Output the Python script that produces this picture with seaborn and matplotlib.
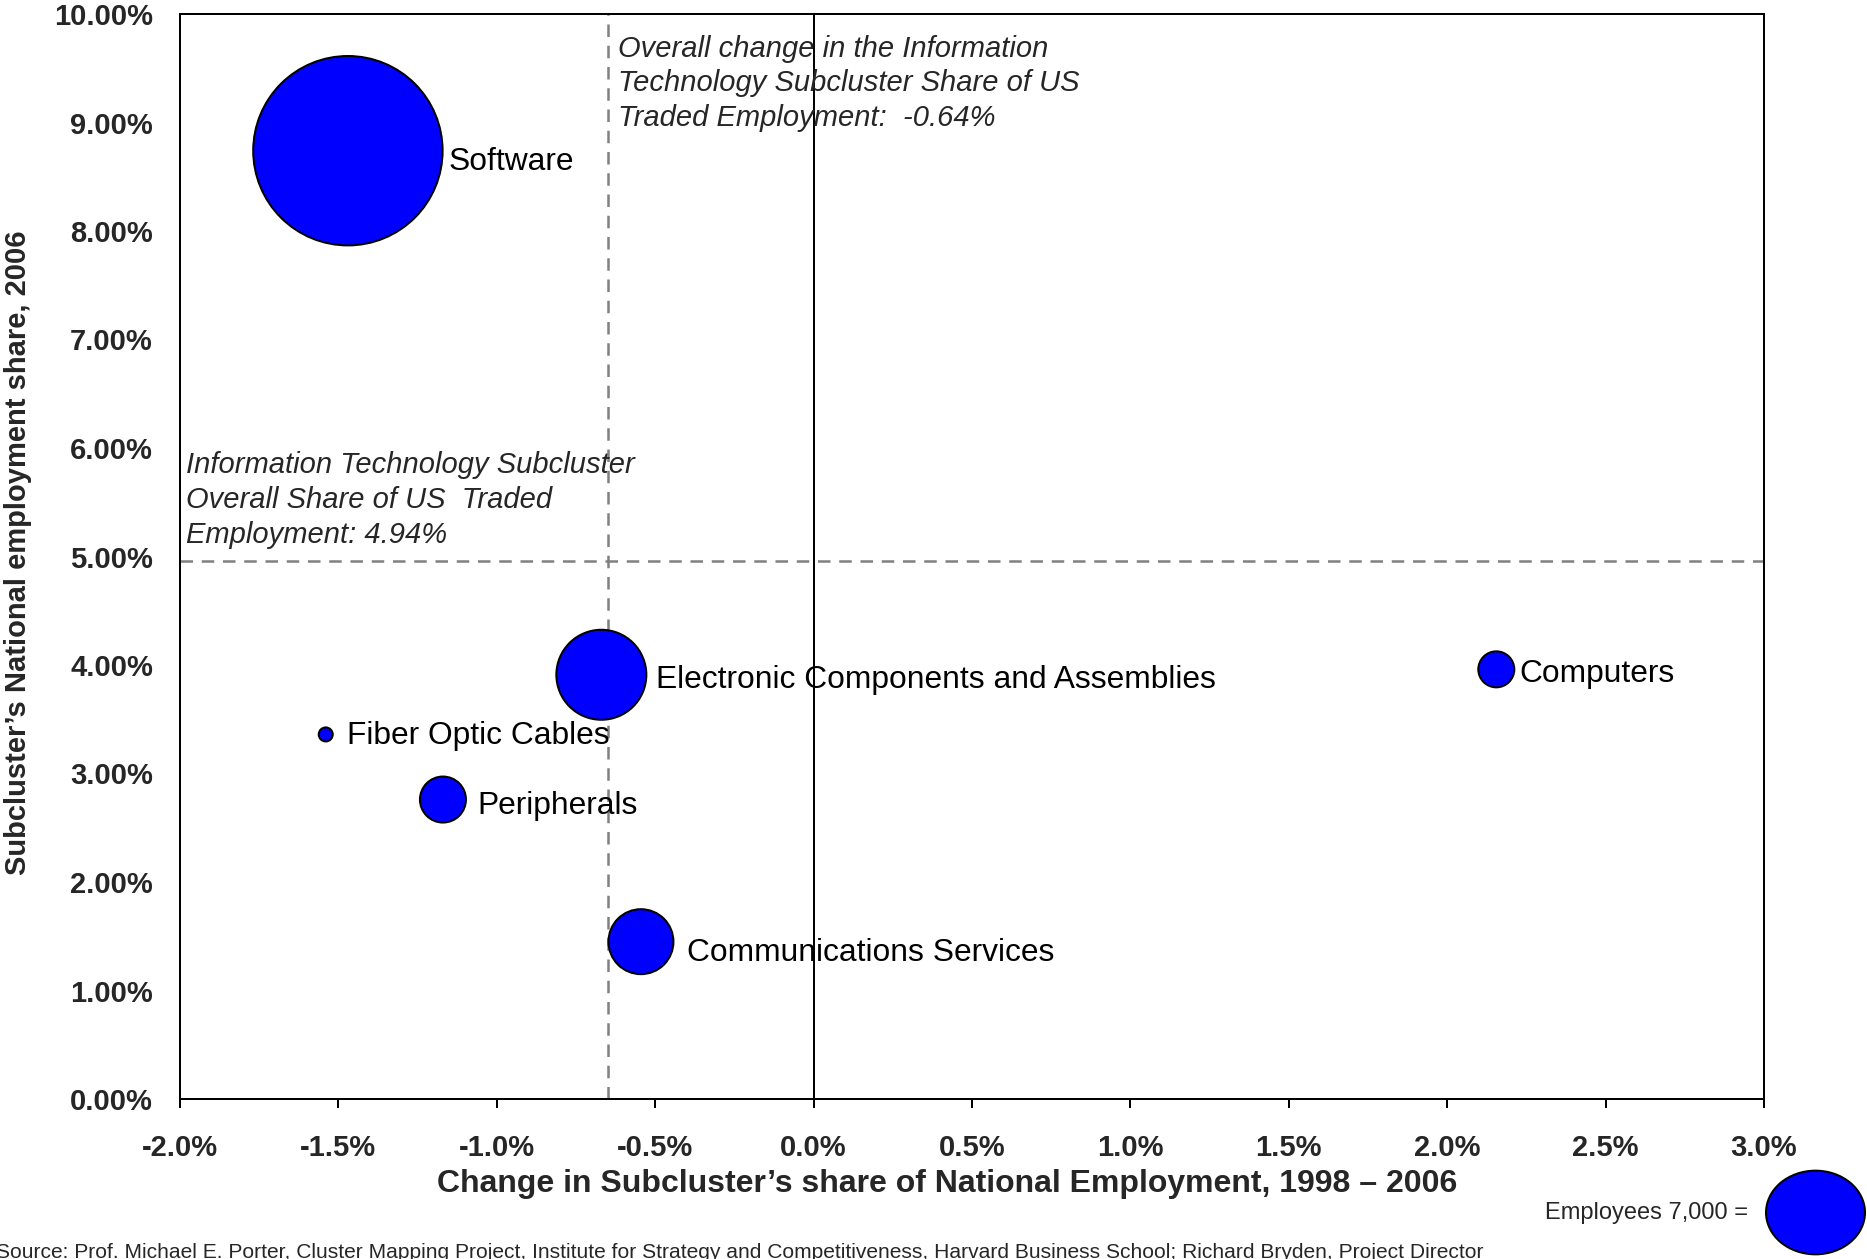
import numpy as np
import pandas as pd
import matplotlib
matplotlib.use("Agg")
import matplotlib.pyplot as plt
import seaborn as sns
from matplotlib.ticker import FuncFormatter, MultipleLocator
from matplotlib.markers import MarkerStyle
from matplotlib.transforms import Affine2D

# ---- data ----
subclusters = ["Software", "Electronic Components and Assemblies", "Fiber Optic Cables",
               "Peripherals", "Communications Services", "Computers"]
change_share = [-1.47, -0.67, -1.54, -1.17, -0.545, 2.155]   # % change 1998-2006
share_2006 = [8.74, 3.91, 3.36, 2.76, 1.45, 3.96]             # % national employment share
employees = [31000, 7000, 170, 1830, 3650, 1120]
overall_change = -0.65
overall_share = 4.96
legend_employees = 7000

# small per-label nudges (points) to mimic the original label placement
label_dy = {"Software": -8, "Electronic Components and Assemblies": -3.5, "Fiber Optic Cables": -1,
            "Peripherals": -5, "Communications Services": -8, "Computers": -3}
label_dx = {"Software": 4, "Electronic Components and Assemblies": 7, "Fiber Optic Cables": 10,
            "Peripherals": 8, "Communications Services": 10, "Computers": 4}

df = pd.DataFrame({"name": subclusters, "x": change_share, "y": share_2006, "emp": employees})

sns.set_style("white")
plt.rcParams["font.family"] = ["Liberation Sans", "DejaVu Sans"]

W, H = 1867, 1259
fig = plt.figure(figsize=(W / 100, H / 100), dpi=100)
ax = fig.add_axes([180 / W, 1 - 1099 / H, (1764 - 180) / W, (1099 - 14) / H])

SIZE_PER_EMP = 4199 / 7000.0
sns.scatterplot(data=df, x="x", y="y", s=df["emp"] * SIZE_PER_EMP, color="#0000FF",
                edgecolor="black", linewidth=1.44, ax=ax, legend=False, zorder=3)

for _, r in df.iterrows():
    rad_pt = np.sqrt(r["emp"] * SIZE_PER_EMP) / 2
    ax.annotate(r["name"], (r["x"], r["y"]),
                xytext=(rad_pt + label_dx[r["name"]], label_dy[r["name"]]), textcoords="offset points",
                ha="left", va="center", fontsize=22.9, color="black", zorder=4)

ax.axvline(0, color="black", lw=1.44, zorder=2)
ax.axvline(overall_change, color="#808080", lw=1.8, ls=(0, (5, 3.5)), zorder=1)
ax.axhline(overall_share, color="#808080", lw=1.8, ls=(0, (5, 3.5)), zorder=1)

ax.text(-0.617, 9.81, "Overall change in the Information\nTechnology Subcluster Share of US\nTraded Employment:  -0.64%",
        style="italic", fontsize=21, ha="left", va="top", linespacing=1.31)
ax.text(-1.98, 5.97, "Information Technology Subcluster\nOverall Share of US  Traded\nEmployment: 4.94%",
        style="italic", fontsize=21, ha="left", va="top", linespacing=1.31)

ax.set_xlim(-2.0, 3.0)
ax.set_ylim(0, 10)
ax.xaxis.set_major_locator(MultipleLocator(0.5))
ax.yaxis.set_major_locator(MultipleLocator(1.0))
ax.xaxis.set_major_formatter(FuncFormatter(lambda v, p: f"{v:.1f}%"))
ax.yaxis.set_major_formatter(FuncFormatter(lambda v, p: f"{v:.2f}%"))
ax.tick_params(axis="x", direction="out", length=6.5, width=1.44, color="black",
               labelsize=21, pad=19, bottom=True)
ax.tick_params(axis="y", length=0, labelsize=21, pad=19.5)
for lab in ax.get_xticklabels() + ax.get_yticklabels():
    lab.set_fontweight("bold")
for sp in ax.spines.values():
    sp.set_color("black")
    sp.set_linewidth(1.44)

ax.set_xlabel("Change in Subcluster\u2019s share of National Employment, 1998 \u2013 2006",
              fontsize=23, fontweight="bold")
ax.set_ylabel("Subcluster\u2019s National employment share, 2006", fontsize=21, fontweight="bold")
ax.xaxis.set_label_coords(0.484, -0.0782)
ax.xaxis.label.set_va("center")
ax.yaxis.set_label_coords(-0.1023, 0.503)
ax.yaxis.label.set_va("center")

# legend bubble
lax = fig.add_axes([1755 / W, 1 - 1272 / H, 120 / W, 120 / H])
lax.set_xlim(0, 1)
lax.set_ylim(0, 1)
lax.axis("off")
ell = MarkerStyle("o", transform=Affine2D().scale(1.1, 0.93))
lax.scatter([0.5], [0.5], s=[legend_employees * SIZE_PER_EMP], marker=ell, color="#0000FF",
            edgecolor="black", linewidth=1.44, clip_on=False)
fig.text(1748 / W, 1 - 1213 / H, "Employees 7,000 =", ha="right", va="center", fontsize=17)

fig.text(-4 / W, 1 - 1252 / H,
         "Source: Prof. Michael E. Porter, Cluster Mapping Project, Institute for Strategy and Competitiveness, "
         "Harvard Business School; Richard Bryden, Project Director",
         ha="left", va="center", fontsize=15.1)

fig.savefig("out.png", dpi=100)
